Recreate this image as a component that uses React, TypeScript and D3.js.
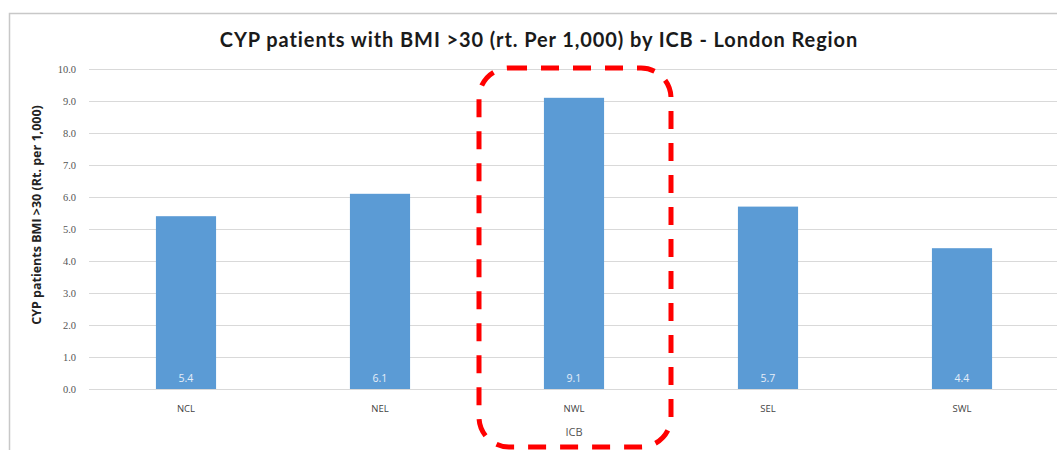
import React, { useEffect, useRef } from "react";
import * as d3 from "d3";

const categories = ["NCL", "NEL", "NWL", "SEL", "SWL"];
const values = [5.4, 6.1, 9.1, 5.7, 4.4];
const yTicks = [0, 1, 2, 3, 4, 5, 6, 7, 8, 9, 10];
const highlighted = "NWL";

const W = 1057;
const H = 450;
const margin = { left: 89, right: -2, top: 69, bottom: 61 };

export default function App() {
  const ref = useRef<SVGSVGElement>(null);

  useEffect(() => {
    const svg = d3.select(ref.current);
    svg.selectAll("*").remove();

    const x = d3
      .scaleBand()
      .domain(categories)
      .range([margin.left, W - margin.right])
      .paddingInner(0.69)
      .paddingOuter(0.345);
    const y = d3.scaleLinear().domain([0, 10]).range([H - margin.bottom, margin.top]);

    // chart frame
    svg
      .append("path")
      .attr("d", `M9.5,${H + 2}V13.5H${W + 2}`)
      .attr("fill", "none")
      .attr("stroke", "#c8c8c8")
      .attr("stroke-width", 1.5);

    // title
    svg
      .append("text")
      .attr("x", 539)
      .attr("y", 47)
      .attr("text-anchor", "middle")
      .attr("font-family", "Lato, 'Open Sans', sans-serif")
      .attr("font-weight", 700)
      .attr("font-size", 20)
      .attr("letter-spacing", 0.9)
      .attr("fill", "#1a1a1a")
      .text("CYP patients with BMI >30 (rt. Per 1,000) by ICB - London Region");

    // gridlines
    svg
      .append("g")
      .selectAll("line")
      .data(yTicks)
      .join("line")
      .attr("x1", margin.left)
      .attr("x2", W)
      .attr("y1", (d) => Math.round(y(d)) + 0.5)
      .attr("y2", (d) => Math.round(y(d)) + 0.5)
      .attr("stroke", "#d9d9d9")
      .attr("stroke-width", 1);

    // y tick labels
    svg
      .append("g")
      .selectAll("text")
      .data(yTicks)
      .join("text")
      .attr("x", 76)
      .attr("y", (d) => y(d) + 3.5)
      .attr("text-anchor", "end")
      .attr("font-family", "'Liberation Serif', serif")
      .attr("font-size", 10.5)
      .attr("fill", "#555")
      .text((d) => d3.format(".1f")(d));

    // y axis title
    svg
      .append("text")
      .attr("transform", `translate(41,215) rotate(-90)`)
      .attr("text-anchor", "middle")
      .attr("font-family", "'Open Sans', sans-serif")
      .attr("font-weight", 700)
      .attr("font-size", 12.5)
      .attr("fill", "#222")
      .text("CYP patients BMI >30 (Rt. per 1,000)");

    // bars
    svg
      .append("g")
      .selectAll("rect")
      .data(values)
      .join("rect")
      .attr("x", (_, i) => x(categories[i])!)
      .attr("width", x.bandwidth())
      .attr("y", (d) => y(d))
      .attr("height", (d) => y(0) - y(d))
      .attr("fill", "#5b9bd5");

    // value labels inside bars
    svg
      .append("g")
      .selectAll("text")
      .data(values)
      .join("text")
      .attr("x", (_, i) => x(categories[i])! + x.bandwidth() / 2)
      .attr("y", y(0) - 7)
      .attr("text-anchor", "middle")
      .attr("font-family", "'Open Sans', sans-serif")
      .attr("font-size", 10.5)
      .attr("fill", "#e6eef8")
      .text((d) => d3.format(".1f")(d));

    // category labels
    svg
      .append("g")
      .selectAll("text")
      .data(categories)
      .join("text")
      .attr("x", (d) => x(d)! + x.bandwidth() / 2)
      .attr("y", y(0) + 23)
      .attr("text-anchor", "middle")
      .attr("font-family", "'Open Sans', sans-serif")
      .attr("font-size", 9.5)
      .attr("fill", "#444")
      .text((d) => d);

    // x axis title
    svg
      .append("text")
      .attr("x", x(highlighted)! + x.bandwidth() / 2)
      .attr("y", y(0) + 47)
      .attr("text-anchor", "middle")
      .attr("font-family", "'Open Sans', sans-serif")
      .attr("font-size", 11)
      .attr("fill", "#555")
      .text("ICB");

    // dashed highlight around the NWL category
    const cx = x(highlighted)! + x.bandwidth() / 2;
    svg
      .append("rect")
      .attr("x", cx - 95)
      .attr("y", 68)
      .attr("width", 192)
      .attr("height", 379)
      .attr("rx", 30)
      .attr("fill", "none")
      .attr("stroke", "#ff0000")
      .attr("stroke-width", 5)
      .attr("stroke-dasharray", "18 14");
  }, []);

  return (
    <svg
      ref={ref}
      width={W}
      height={H}
      style={{ position: "absolute", left: 0, top: 0, background: "#fff" }}
    />
  );
}
